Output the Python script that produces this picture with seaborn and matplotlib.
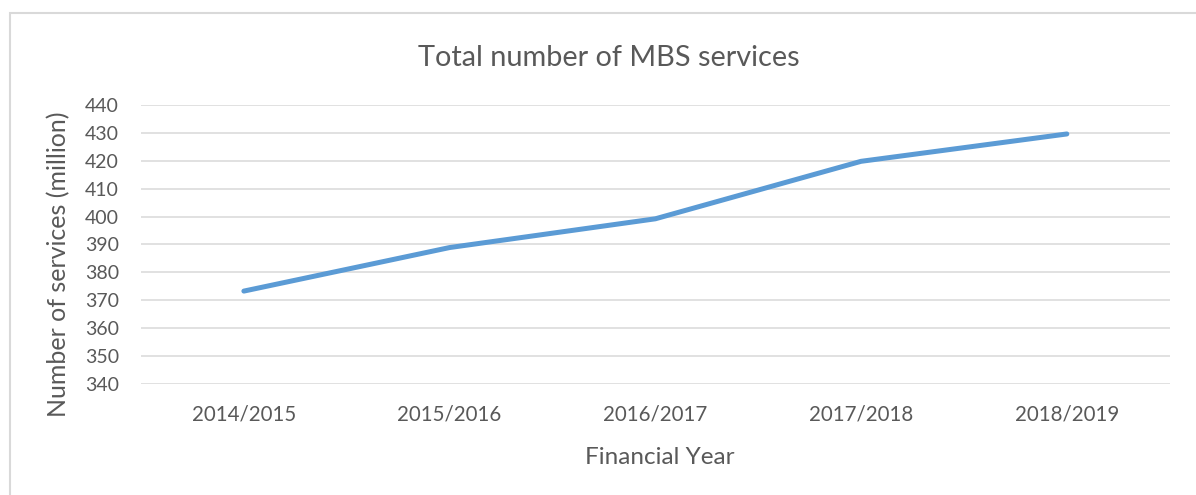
import pandas as pd
import seaborn as sns
import matplotlib.pyplot as plt
from matplotlib.patches import Rectangle

years = ["2014/2015", "2015/2016", "2016/2017", "2017/2018", "2018/2019"]
services = [373.3, 388.9, 399.2, 419.8, 429.6]
yticks = list(range(340, 441, 10))

df = pd.DataFrame({"year": years, "services": services})

sns.set_style("white")
plt.rcParams['font.family'] = ['Lato', 'DejaVu Sans']
grey = "#595959"

fig = plt.figure(figsize=(11.96, 4.95), dpi=100)
ax = fig.add_axes([0.1179, 0.2242, 0.8601, 0.5638])

sns.lineplot(x="year", y="services", data=df, ax=ax, color="#5B9BD5",
             linewidth=3.6, sort=False, solid_capstyle="round")

ax.set_xlim(-0.5, 4.5)
ax.set_ylim(340, 440)
ax.set_yticks(yticks)
ax.grid(True, axis="y", color="#D9D9D9", linewidth=1.1)
ax.grid(False, axis="x")
for s in ax.spines.values():
    s.set_visible(False)
ax.tick_params(axis="both", length=0, colors=grey)
ax.tick_params(axis="y", pad=16, labelsize=14)
ax.tick_params(axis="x", pad=15, labelsize=14.8)

fig.text(0.509, 0.883, "Total number of MBS services", fontsize=20.8,
         color=grey, ha="center", va="center")
ax.set_xlabel("Financial Year", fontsize=17.5, color=grey)
ax.xaxis.set_label_coords(0.504, -0.226)
ax.set_ylabel("Number of services (million)", fontsize=18, color=grey)
ax.yaxis.set_label_coords(-0.069, 0.43)

fig.patches.append(Rectangle((0.0084, -0.1), 1.2, 1.0737, transform=fig.transFigure,
                             fill=False, edgecolor="#D9D9D9", linewidth=1.5))

fig.savefig("out.png", dpi=100)
